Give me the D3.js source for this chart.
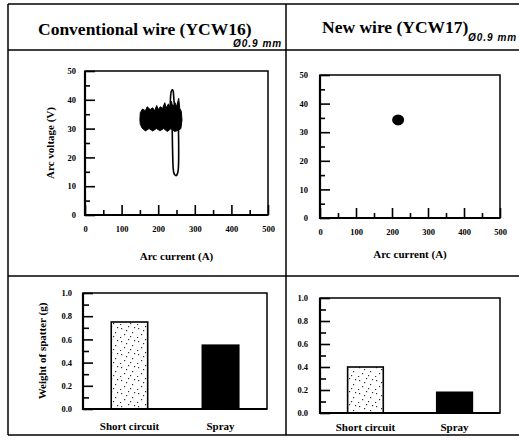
<!DOCTYPE html>
<html>
<head>
<meta charset="utf-8">
<script src="https://cdn.jsdelivr.net/npm/d3@7"></script>
<style>
  body { margin: 0; background: #fff; }
  svg { display: block; }
</style>
</head>
<body>
<div id="fig"></div>
<script>
// ---- data ----
var titles = ['Conventional wire (YCW16)', 'New wire (YCW17)'];
var wireSize = '\u00D80.9 mm';

var currentTicks = [0, 50, 100, 150, 200, 250, 300, 350, 400, 450, 500];
var voltageTicks = [0, 5, 10, 15, 20, 25, 30, 35, 40, 45, 50];
var weightTicks = [0, 0.1, 0.2, 0.3, 0.4, 0.5, 0.6, 0.7, 0.8, 0.9, 1.0];

var categories = ['Short circuit', 'Spray'];
var spatterConventional = [0.75, 0.55];
var spatterNew = [0.40, 0.18];

// conventional wire: dense V-I cloud outline (current A, voltage V)
var cloudConventional = [
  [150, 33], [151, 35.5], [157, 36.8], [165, 36.2], [170, 37.6], [178, 36.6],
  [185, 37.2], [190, 36.2], [196, 38], [200, 36.6], [206, 37.6], [212, 37],
  [218, 39], [222, 37.2], [228, 38.6], [232, 37.4], [236, 39.5], [240, 37.5],
  [246, 39], [250, 37.6], [256, 40.5], [259, 37], [263, 36], [265, 33],
  [262, 30], [255, 29.4], [245, 29], [235, 30], [225, 29], [215, 30],
  [205, 29.3], [195, 30], [185, 29.2], [175, 30], [165, 29.2], [156, 30.2],
  [151, 31.5]
];
// conventional wire: short-circuit excursion loop
var loopConventional = [
  [233, 37], [234, 41.5], [237, 43.3], [241, 43], [243, 40], [246, 37],
  [252, 36], [255, 31], [256, 22], [255, 16], [251, 13.9], [245, 14],
  [241, 16], [239, 24], [238, 31], [235, 34]
];
// new wire: single tight cluster
var clusterNew = [[217, 34.3]];

// ---- layout ----
var W = 519, H = 440;
var svg = d3.select('#fig').append('svg')
  .attr('width', W).attr('height', H)
  .style('font-family', '"Liberation Serif", "DejaVu Serif", serif')
  .style('font-weight', 'bold');

svg.append('rect').attr('width', W).attr('height', H).attr('fill', '#fff');

// stipple fill for short circuit bars
var defs = svg.append('defs');
var pat = defs.append('pattern').attr('id', 'stipple')
  .attr('patternUnits', 'userSpaceOnUse').attr('width', 17).attr('height', 13);
pat.append('rect').attr('width', 17).attr('height', 13).attr('fill', '#fff');
[[2, 3], [9, 1], [13, 7], [5, 9], [11, 11], [15, 2], [1, 12], [7, 5]].forEach(function(p) {
  pat.append('rect').attr('x', p[0]).attr('y', p[1]).attr('width', 1.2).attr('height', 1.2).attr('fill', '#333');
});

// frame
var frame = svg.append('g').attr('stroke', '#000').attr('stroke-width', 1.5);
[[8, 4, 519, 4], [8, 50, 519, 50], [8, 276, 519, 276], [8, 435, 519, 435],
 [8, 4, 8, 435], [286, 4, 286, 435]].forEach(function(l) {
  frame.append('line').attr('x1', l[0]).attr('y1', l[1]).attr('x2', l[2]).attr('y2', l[3]);
});

// titles
svg.append('text').attr('x', 38).attr('y', 35).attr('font-size', 17.5).text(titles[0]);
svg.append('text').attr('x', 322).attr('y', 33).attr('font-size', 17.5).text(titles[1]);
svg.selectAll('.size')
  .data([[233, 47], [468, 41]])
  .enter().append('text')
  .attr('class', 'size')
  .attr('x', function(d) { return d[0]; })
  .attr('y', function(d) { return d[1]; })
  .attr('font-family', '"Liberation Sans", sans-serif')
  .attr('font-style', 'italic')
  .attr('font-size', 10)
  .attr('letter-spacing', 1)
  .text(wireSize);

function drawBox(g, box) {
  g.append('rect')
    .attr('x', box.left).attr('y', box.top)
    .attr('width', box.right - box.left).attr('height', box.bottom - box.top)
    .attr('fill', 'none').attr('stroke', '#000').attr('stroke-width', 1.5);
  g.append('path')
    .attr('d', 'M' + box.left + ',' + box.top + 'V' + box.bottom + 'H' + box.right)
    .attr('fill', 'none').attr('stroke', '#000').attr('stroke-width', 2.2);
}

function styleAxis(a) {
  a.attr('font-family', null).attr('font-size', null);
  a.select('.domain').remove();
  a.selectAll('line').attr('stroke', '#000').attr('stroke-width', 1.6);
  a.selectAll('text').attr('font-size', 8.5).attr('fill', '#000');
}

function drawScatter(box, opts) {
  var g = svg.append('g');
  var x = d3.scaleLinear().domain([0, 500]).range([box.left, box.right]);
  var y = d3.scaleLinear().domain([0, 50]).range([box.bottom, box.top]);

  var line = d3.line()
    .x(function(d) { return x(d[0]); })
    .y(function(d) { return y(d[1]); });

  if (opts.cloud) {
    g.append('path').datum(opts.cloud)
      .attr('d', line.curve(d3.curveLinearClosed))
      .attr('fill', '#000').attr('stroke', '#000').attr('stroke-width', 1);
  }
  if (opts.loop) {
    g.append('path').datum(opts.loop)
      .attr('d', line.curve(d3.curveCardinalClosed))
      .attr('fill', 'none').attr('stroke', '#000').attr('stroke-width', 1.6);
  }
  if (opts.points) {
    g.selectAll('.pt').data(opts.points).enter().append('ellipse')
      .attr('class', 'pt')
      .attr('cx', function(d) { return x(d[0]); })
      .attr('cy', function(d) { return y(d[1]); })
      .attr('rx', 6).attr('ry', 5.5)
      .attr('fill', '#000');
  }

  drawBox(g, box);

  var xa = g.append('g').attr('transform', 'translate(0,' + box.bottom + ')')
    .call(d3.axisBottom(x).tickValues(currentTicks).tickSize(-10).tickPadding(11)
      .tickFormat(function(d) { return d % 100 === 0 ? d : ''; }));
  styleAxis(xa);
  xa.selectAll('.tick').filter(function(d) { return d % 100 !== 0; })
    .select('line').attr('y2', -5);

  var ya = g.append('g').attr('transform', 'translate(' + box.left + ',0)')
    .call(d3.axisLeft(y).tickValues(voltageTicks).tickSize(-10).tickPadding(opts.yPad)
      .tickFormat(function(d) { return d % 10 === 0 ? d : ''; }));
  styleAxis(ya);
  ya.selectAll('.tick').filter(function(d) { return d % 10 !== 0; })
    .select('line').attr('x2', 5);

  g.append('text')
    .attr('x', (box.left + box.right) / 2).attr('y', opts.xLabelY)
    .attr('text-anchor', 'middle').attr('font-size', 11)
    .text('Arc current (A)');
  if (opts.yLabel) {
    g.append('text')
      .attr('transform', 'translate(' + opts.yLabelX + ',' + (box.top + box.bottom) / 2 + ') rotate(-90)')
      .attr('text-anchor', 'middle').attr('font-size', 11)
      .text(opts.yLabel);
  }
}

function drawBars(box, values, opts) {
  var g = svg.append('g');
  var x = d3.scaleBand().domain(categories).range([box.left, box.right])
    .paddingInner(0.6).paddingOuter(0.31);
  var y = d3.scaleLinear().domain([0, 1]).range([box.bottom, box.top]);

  g.selectAll('.bar').data(values).enter().append('rect')
    .attr('class', 'bar')
    .attr('x', function(d, i) { return x(categories[i]); })
    .attr('width', x.bandwidth())
    .attr('y', function(d) { return y(d); })
    .attr('height', function(d) { return y(0) - y(d); })
    .attr('fill', function(d, i) { return i === 0 ? 'url(#stipple)' : '#000'; })
    .attr('stroke', '#000').attr('stroke-width', 1.6);

  drawBox(g, box);

  var ya = g.append('g').attr('transform', 'translate(' + box.left + ',0)')
    .call(d3.axisLeft(y).tickValues(weightTicks).tickSize(-10).tickPadding(opts.yPad)
      .tickFormat(function(d, i) { return i % 2 === 0 ? d3.format('.1f')(d) : ''; }));
  styleAxis(ya);
  ya.selectAll('.tick').filter(function(d, i) { return i % 2 !== 0; })
    .select('line').attr('x2', 6);

  g.selectAll('.cat').data(categories).enter().append('text')
    .attr('class', 'cat')
    .attr('x', function(d) { return x(d) + x.bandwidth() / 2; })
    .attr('y', opts.catY)
    .attr('text-anchor', 'middle').attr('font-size', 11)
    .text(function(d) { return d; });

  if (opts.yLabel) {
    g.append('text')
      .attr('transform', 'translate(' + opts.yLabelX + ',' + (box.top + box.bottom) / 2 + ') rotate(-90)')
      .attr('text-anchor', 'middle').attr('font-size', 11)
      .text(opts.yLabel);
  }
}

drawScatter({ left: 85, right: 268, top: 71, bottom: 215 },
  { cloud: cloudConventional, loop: loopConventional, yPad: 9,
    xLabelY: 260, yLabel: 'Arc voltage (V)', yLabelX: 54 });
drawScatter({ left: 320, right: 500, top: 75, bottom: 218 },
  { points: clusterNew, yPad: 12, xLabelY: 258 });

drawBars({ left: 83, right: 267, top: 293, bottom: 409 }, spatterConventional,
  { yPad: 11, catY: 430, yLabel: 'Weight of spatter (g)', yLabelX: 46 });
drawBars({ left: 320, right: 500, top: 298, bottom: 413 }, spatterNew,
  { yPad: 12, catY: 431 });
</script>
</body>
</html>
